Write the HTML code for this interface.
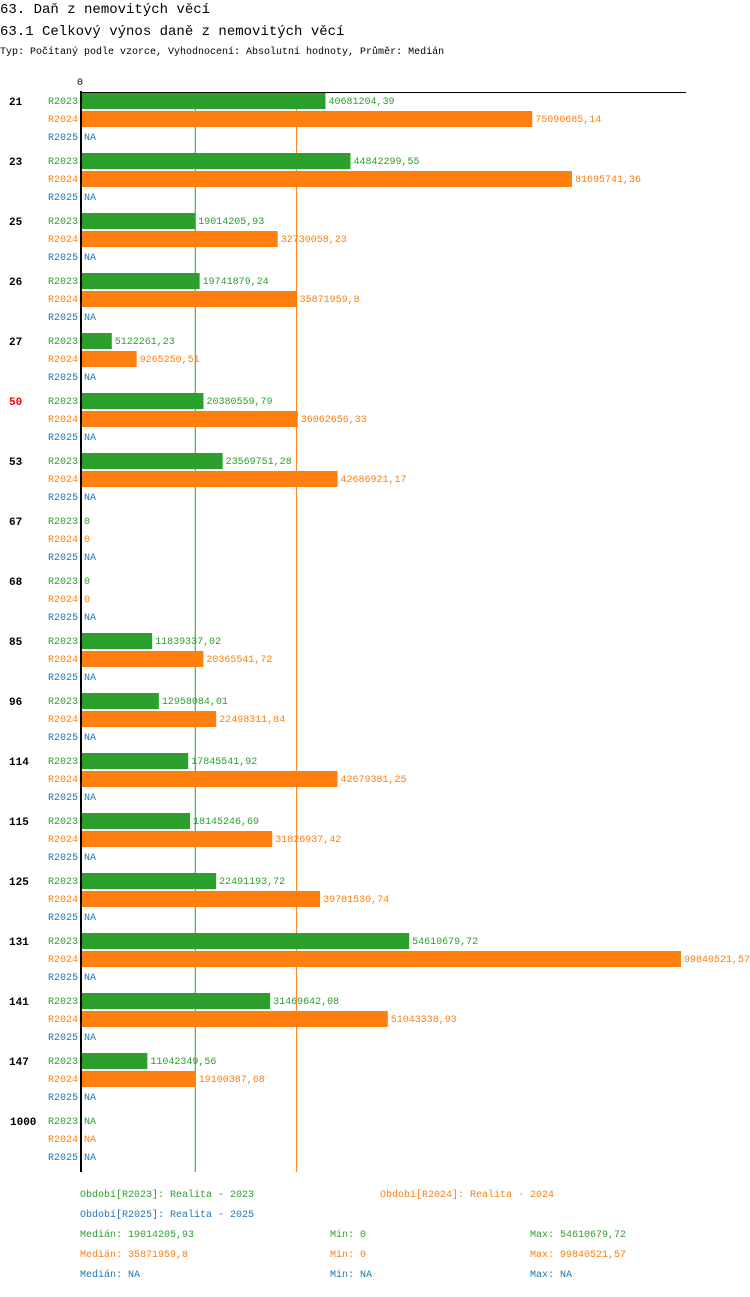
<!DOCTYPE html>
<html><head><meta charset="utf-8"><style>
body{margin:0;background:#fff;width:750px;height:1292px;overflow:hidden;font-family:"Liberation Mono",monospace}
text{font-family:"Liberation Mono",monospace}
</style></head><body>
<svg width="750" height="1292" xmlns="http://www.w3.org/2000/svg">
<text x="0" y="13" font-size="14">63. Daň z nemovitých věcí</text>
<text x="0" y="35" font-size="14">63.1 Celkový výnos daně z nemovitých věcí</text>
<text x="0" y="54" font-size="10">Typ: Počítaný podle vzorce, Vyhodnocení: Absolutní hodnoty, Průměr: Medián</text>
<g id="plot"></g>
<g id="legend"></g>
</svg>
<script>
const categories=["21","23","25","26","27","50","53","67","68","85","96","114","115","125","131","141","147","1000"];
const r2023=[40681204.39,44842299.55,19014205.93,19741879.24,5122261.23,20380559.79,23569751.28,0,0,11839337.02,12958084.01,17845541.92,18145246.69,22491193.72,54610679.72,31469642.08,11042349.56,null];
const r2024=[75090685.14,81695741.36,32730058.23,35871959.8,9265250.51,36062656.33,42686921.17,0,0,20365541.72,22498311.84,42679381.25,31826937.42,39781530.74,99840521.57,51043338.93,19100387.68,null];
const r2025=categories.map(()=>null);
const highlighted=["50"];
const medians=[19014205.93,35871959.8];
const colors=["#2ca02c","#ff7f0e","#1f77b4"];
const series=[r2023,r2024,r2025];
const names=["R2023","R2024","R2025"];
const x0=81, maxV=99840521.57, maxPx=600;
const X=v=>x0+v/maxV*maxPx;
const NS="http://www.w3.org/2000/svg";
const plot=document.getElementById('plot');
function mk(tag,attrs,txt){const e=document.createElementNS(NS,tag);for(const k in attrs)e.setAttribute(k,attrs[k]);if(txt!==undefined)e.textContent=txt;return e;}
function fmt(v){return v===null?"NA":String(v).replace('.',',');}
medians.forEach((m,i)=>{const l=mk('line',{x1:X(m),x2:X(m),y1:92,y2:1172,stroke:colors[i],'stroke-width':1});

plot.appendChild(l);});
categories.forEach((c,gi)=>{
 const gy=93+gi*60;
 const t=mk('text',{x:c.length>3?10:9,y:gy+12,'font-size':11,'font-weight':'bold',fill:highlighted.includes(c)?'#ff0000':'#000'},c);
 
 plot.appendChild(t);
 series.forEach((s,si)=>{
  const y=gy+si*18;const v=s[gi];
  const lab=mk('text',{x:78,y:y+11,'font-size':10,fill:colors[si],'text-anchor':'end'},names[si]);
  
  plot.appendChild(lab);
  let end=x0;
  if(v!==null&&v>0){const r=mk('rect',{x:x0,y:y,width:X(v)-x0,height:16,fill:colors[si]});
   
   plot.appendChild(r);end=X(v);}
  const vt=mk('text',{x:end+3,y:y+11,'font-size':10,fill:colors[si]},fmt(v));
  
  plot.appendChild(vt);
 });
});
const ax=mk('line',{x1:81,x2:81,y1:91,y2:1172,stroke:'#000','stroke-width':2});

plot.appendChild(ax);
const tx=mk('line',{x1:80,x2:686,y1:92.5,y2:92.5,stroke:'#000','stroke-width':1});

plot.appendChild(tx);
const z=mk('text',{x:80,y:85,'font-size':10,'text-anchor':'middle'},'0');

plot.appendChild(z);
const leg=document.getElementById('legend');
const items=[[80,1197,0,"Období[R2023]: Realita - 2023"],[380,1197,1,"Období[R2024]: Realita - 2024"],[80,1217,2,"Období[R2025]: Realita - 2025"],
[80,1237,0,"Medián: 19014205,93"],[330,1237,0,"Min: 0"],[530,1237,0,"Max: 54610679,72"],
[80,1257,1,"Medián: 35871959,8"],[330,1257,1,"Min: 0"],[530,1257,1,"Max: 99840521,57"],
[80,1277,2,"Medián: NA"],[330,1277,2,"Min: NA"],[530,1277,2,"Max: NA"]];
items.forEach(it=>{const t=mk('text',{x:it[0],y:it[1],'font-size':10,fill:colors[it[2]]},it[3]);

leg.appendChild(t);});
</script>
</body></html>
